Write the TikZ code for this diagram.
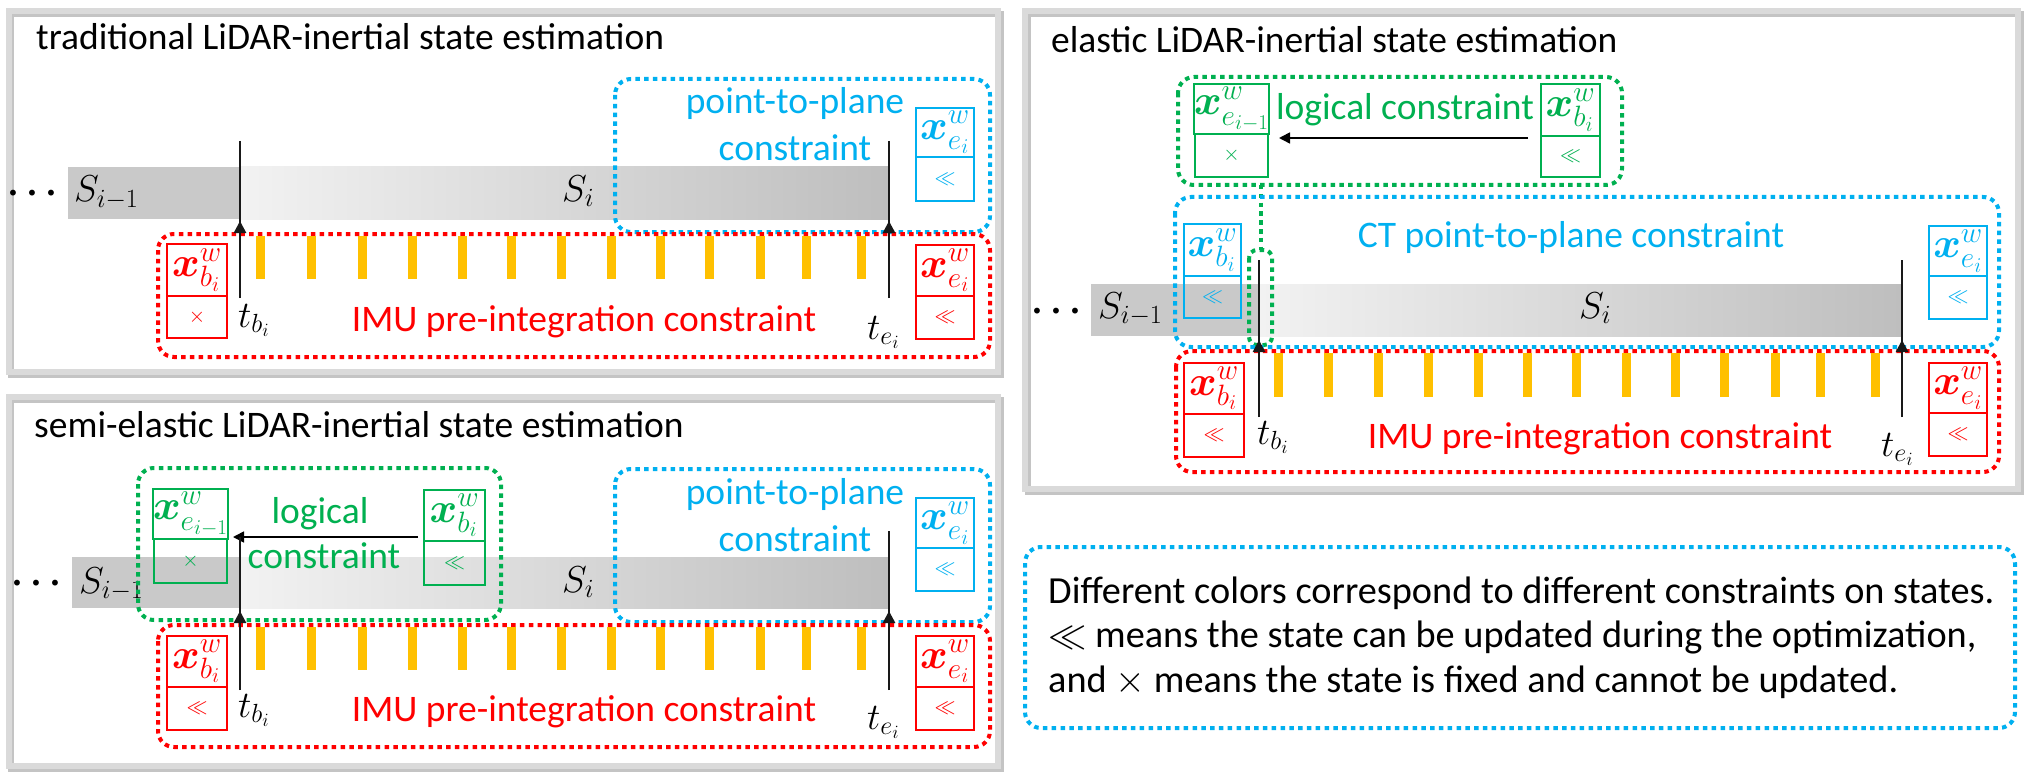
\RequirePackage{fix-cm}
\documentclass[tikz,border=0pt]{standalone}
\usepackage{amsmath,bm}
\usepackage[no-math]{fontspec}
\setmainfont{Carlito}
\usetikzlibrary{arrows.meta}
\definecolor{pred}{HTML}{FF0000}
\definecolor{pblue}{HTML}{00B0F0}
\definecolor{pgreen}{HTML}{00B050}
\definecolor{pyellow}{HTML}{FFC000}
\definecolor{framegray}{HTML}{DADADA}
\definecolor{shadowgray}{HTML}{C4C4C4}
\definecolor{segdark}{HTML}{C9C9C9}
\definecolor{seglight}{HTML}{F2F2F2}
\definecolor{segend}{HTML}{BEBEBE}
\tikzset{
  panelframe/.style={draw=framegray, line width=6pt},
  panelshadow/.style={draw=shadowgray, line width=6pt},
  dotbox/.style={line width=4pt, dash pattern=on 4.5pt off 4.3pt, rounded corners=16pt},
  cellbox/.style={line width=2.4pt, inner sep=0pt},
  tline/.style={line width=2.6pt, draw=black!90},
  tarrow/.style={line width=2.6pt, draw=black!90, -{Triangle[length=12pt,width=12pt]}},
  larrow/.style={line width=1.6pt, draw=black, -{Triangle[length=11pt,width=11pt]}},
  imubar/.style={fill=pyellow},
  txt/.style={inner sep=0pt, anchor=base},
  txtw/.style={inner sep=0pt, anchor=base west},
  titletxt/.style={inner sep=0pt, anchor=base west, font=\fontsize{37.5}{44}\selectfont},
  legtxt/.style={inner sep=0pt, anchor=base west, font=\fontsize{38.3}{45}\selectfont},
}
% name, color, x1, y1, x2, ymid, y2, top text, bottom text
\newcommand{\stbox}[9]{%
  \node[cellbox, draw=#2, text=#2, font=\fontsize{42}{48}\selectfont, minimum width={(#5-#3)*1pt}, minimum height={(#6-#4)*1pt}] (#1t) at ({(#3+#5)/2},{(#4+#6)/2}) {#8};
  \node[cellbox, draw=#2, text=#2, minimum width={(#5-#3)*1pt}, minimum height={(#7-#6)*1pt}] (#1b) at ({(#3+#5)/2},{(#6+#7)/2}) {#9};
}
\newcommand{\symll}{{\fontsize{21}{24}\selectfont$\ll$}}
\newcommand{\symx}{{\fontsize{21}{24}\selectfont$\times$}}
\newcommand{\mydots}{$\boldsymbol{\cdots}$}
\begin{document}
\begin{tikzpicture}[x=1pt,y=-1pt,font=\fontsize{37.5}{45}\selectfont]
\useasboundingbox (0,0) rectangle (2031,778);
\fill[white] (0,0) rectangle (2031,778);

% ================= panel frames =================
\draw[panelshadow] (11,14) rectangle (1001,374.5);
\draw[panelframe] (8.5,11.5) rectangle (998,371.5);
\draw[panelshadow] (11,399.5) rectangle (1001,769);
\draw[panelframe] (8.5,396.5) rectangle (998,766);
\draw[panelshadow] (1028,14) rectangle (2021,492);
\draw[panelframe] (1025,11) rectangle (2018,489);

% ================= panel 1: traditional =================
\node[titletxt] (ttl1) at (36,50) {traditional LiDAR-inertial state estimation};
\fill[segdark] (68,167) rectangle (240,219);
\shade[left color=seglight, right color=segend] (240,167) rectangle (889,219);
\node[inner sep=0pt] (dots1) at (36,194) {\mydots};
\node[txtw] (sprev1) at (74,202) {$S_{i-1}$};
\node[txtw] (scur1) at (562,201) {$S_i$};
\draw[pblue, dotbox] (615,79) rectangle (990,232);
\node[txt, text=pblue] (ptp1a) at (795,114) {point-to-plane};
\node[txt, text=pblue] (ptp1b) at (795,161) {constraint};
\stbox{bs1}{pblue}{916}{108}{974}{157}{201}{$\bm{x}^{w}_{e_i}$}{\symll}
\draw[pred, dotbox] (158,234) rectangle (990,357);
\stbox{rl1}{pred}{167}{244}{227}{296}{338}{$\bm{x}^{w}_{b_i}$}{\symx}
\stbox{rr1}{pred}{916}{245}{974}{296}{339}{$\bm{x}^{w}_{e_i}$}{\symll}
\foreach \bx in {260,311,362,412,462,511,561,611,660,709,760,806,861}
  \fill[imubar] (\bx-4.5,236) rectangle (\bx+4.5,279);
\coordinate (tb1top) at (240,141);
\coordinate (tb1bot) at (240,298);
\coordinate (tb1tip) at (240,221);
\coordinate (te1top) at (889,141);
\coordinate (te1bot) at (889,298);
\coordinate (te1tip) at (889,221);
\draw[tline] (tb1top) -- (tb1bot);
\draw[tarrow] (tb1bot) -- (tb1tip);
\draw[tline] (te1top) -- (te1bot);
\draw[tarrow] (te1bot) -- (te1tip);
\node[txtw] (tb1) at (238,327) {$t_{b_i}$};
\node[txtw] (te1) at (867,339) {$t_{e_i}$};
\node[txt, text=pred] (imu1) at (584,331) {IMU pre-integration constraint};

% ================= panel 2: semi-elastic =================
\node[titletxt] (ttl2) at (34,437) {semi-elastic LiDAR-inertial state estimation};
\fill[segdark] (72,557) rectangle (240,608);
\shade[left color=seglight, right color=segend] (240,557) rectangle (889,608);
\node[inner sep=0pt] (dots2) at (40,584) {\mydots};
\node[txtw] (sprev2) at (79,593) {$S_{i-1}$};
\node[txtw] (scur2) at (562,592) {$S_i$};
\draw[pgreen, dotbox] (138,468) rectangle (501,620);
\stbox{gl2}{pgreen}{154}{489}{227}{539}{583}{$\bm{x}^{w}_{e_{i-1}}$}{\symx}
\stbox{gr2}{pgreen}{424}{490}{485}{541}{585}{$\bm{x}^{w}_{b_i}$}{\symll}
\node[txt, text=pgreen] (log2a) at (320,523) {logical};
\node[txt, text=pgreen] (log2b) at (324,568) {constraint};
\coordinate (la2s) at (418,537);
\coordinate (la2e) at (233,537);
\draw[larrow] (la2s) -- (la2e);
\draw[pblue, dotbox] (615,469) rectangle (990,622);
\node[txt, text=pblue] (ptp2a) at (795,504) {point-to-plane};
\node[txt, text=pblue] (ptp2b) at (795,551) {constraint};
\stbox{bs2}{pblue}{916}{498}{974}{548}{591}{$\bm{x}^{w}_{e_i}$}{\symll}
\draw[pred, dotbox] (158,625) rectangle (990,747);
\stbox{rl2}{pred}{167}{636}{227}{687}{730}{$\bm{x}^{w}_{b_i}$}{\symll}
\stbox{rr2}{pred}{916}{636}{974}{687}{730}{$\bm{x}^{w}_{e_i}$}{\symll}
\foreach \bx in {260,311,362,412,462,511,561,611,660,709,760,806,861}
  \fill[imubar] (\bx-4.5,627) rectangle (\bx+4.5,670);
\coordinate (tb2top) at (240,537);
\coordinate (tb2bot) at (240,690);
\coordinate (tb2tip) at (240,611);
\coordinate (te2top) at (889,531);
\coordinate (te2bot) at (889,690);
\coordinate (te2tip) at (889,611);
\draw[tline] (tb2top) -- (tb2bot);
\draw[tarrow] (tb2bot) -- (tb2tip);
\draw[tline] (te2top) -- (te2bot);
\draw[tarrow] (te2bot) -- (te2tip);
\node[txtw] (tb2) at (238,717) {$t_{b_i}$};
\node[txtw] (te2) at (867,729) {$t_{e_i}$};
\node[txt, text=pred] (imu2) at (584,721) {IMU pre-integration constraint};

% ================= panel 3: elastic =================
\node[titletxt] (ttl3) at (1051,53) {elastic LiDAR-inertial state estimation};
\fill[segdark] (1091,284) rectangle (1259,336);
\shade[left color=seglight, right color=segend] (1259,284) rectangle (1902,336);
\node[inner sep=0pt] (dots3) at (1060,312) {\mydots};
\node[txtw] (sprev3) at (1098,318) {$S_{i-1}$};
\node[txtw] (scur3) at (1579,318) {$S_i$};
\draw[pgreen, dotbox] (1178,77) rectangle (1622,185);
\stbox{gl3}{pgreen}{1195}{84}{1268}{134}{177}{$\bm{x}^{w}_{e_{i-1}}$}{\symx}
\stbox{gr3}{pgreen}{1541}{84}{1600}{136}{177}{$\bm{x}^{w}_{b_i}$}{\symll}
\node[txt, text=pgreen] (log3) at (1405,120) {logical constraint};
\coordinate (la3s) at (1528,138);
\coordinate (la3e) at (1279,138);
\draw[larrow] (la3s) -- (la3e);
\coordinate (gv3top) at (1261,185);
\coordinate (gv3bot) at (1261,250);
\draw[pgreen, line width=4pt, dash pattern=on 4.5pt off 4.3pt] (gv3top) -- (gv3bot);
\draw[pgreen, line width=4pt, dash pattern=on 4.5pt off 4.3pt, rounded corners=8pt] (1249,250) rectangle (1272,345);
\draw[pblue, dotbox] (1175,197) rectangle (1999,347);
\node[txt, text=pblue] (ct3) at (1571,247) {CT point-to-plane constraint};
\stbox{bl3}{pblue}{1184}{224}{1241}{276}{318}{$\bm{x}^{w}_{b_i}$}{\symll}
\stbox{br3}{pblue}{1929}{226}{1987}{276}{319}{$\bm{x}^{w}_{e_i}$}{\symll}
\draw[pred, dotbox] (1176,351) rectangle (1999,472);
\stbox{rl3}{pred}{1184}{363}{1244}{414}{457}{$\bm{x}^{w}_{b_i}$}{\symll}
\stbox{rr3}{pred}{1929}{363}{1987}{413}{456}{$\bm{x}^{w}_{e_i}$}{\symll}
\foreach \bx in {1278,1328,1378,1428,1478,1527,1576,1626,1675,1724,1775,1820,1875}
  \fill[imubar] (\bx-4.5,353) rectangle (\bx+4.5,397);
\coordinate (tb3top) at (1259,260);
\coordinate (tb3bot) at (1259,417);
\coordinate (tb3tip) at (1259,340);
\coordinate (te3top) at (1902,260);
\coordinate (te3bot) at (1902,417);
\coordinate (te3tip) at (1902,340);
\draw[tline] (tb3top) -- (tb3bot);
\draw[tarrow] (tb3bot) -- (tb3tip);
\draw[tline] (te3top) -- (te3bot);
\draw[tarrow] (te3bot) -- (te3tip);
\node[txtw] (tb3) at (1257,444) {$t_{b_i}$};
\node[txtw] (te3) at (1881,456) {$t_{e_i}$};
\node[txt, text=pred] (imu3) at (1600,448) {IMU pre-integration constraint};

% ================= legend =================
\draw[pblue, dotbox] (1025,547) rectangle (2015,728);
\node[legtxt] (leg1) at (1048,603) {Different colors correspond to different constraints on states.};
\node[legtxt] (leg2) at (1048,647) {$\ll$ means the state can be updated during the optimization,};
\node[legtxt] (leg3) at (1048,692) {and $\times$ means the state is fixed and cannot be updated.};
\end{tikzpicture}
\end{document}
